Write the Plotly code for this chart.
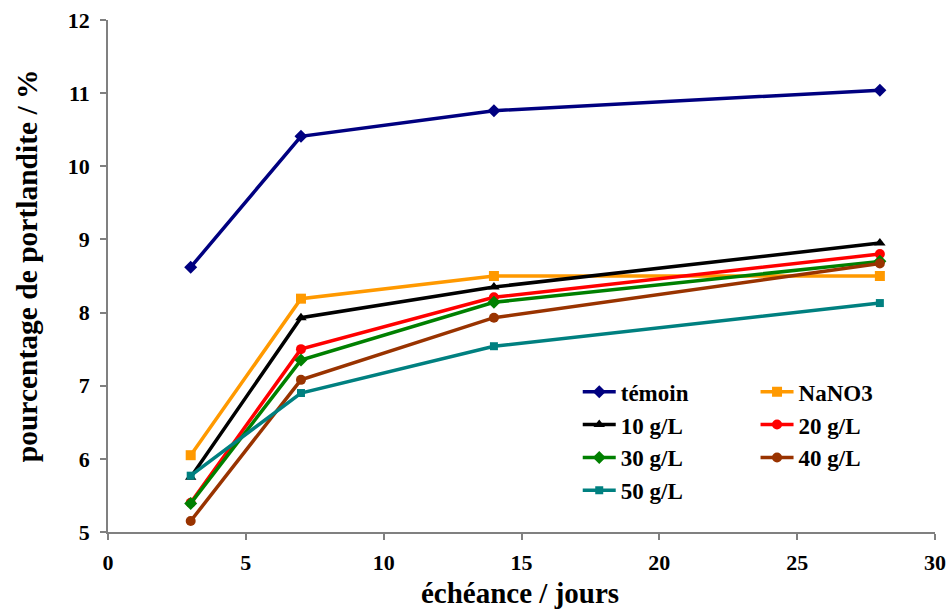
import plotly.graph_objects as go

jours = [3, 7, 14, 28]
temoin = [8.62, 10.41, 10.76, 11.04]
nano3 = [6.05, 8.19, 8.50, 8.50]
g10 = [5.75, 7.93, 8.35, 8.95]
g20 = [5.40, 7.50, 8.21, 8.80]
g30 = [5.39, 7.35, 8.14, 8.70]
g40 = [5.15, 7.08, 7.93, 8.67]
g50 = [5.77, 6.90, 7.54, 8.13]

x_tick_labels = ["0", "5", "10", "15", "20", "25", "30"]
y_tick_labels = ["5", "6", "7", "8", "9", "10", "11", "12"]

series = [
    ("témoin", temoin, "#000080", "diamond", 10, "legend"),
    ("NaNO3", nano3, "#FF9900", "square", 10, "legend2"),
    ("10 g/L", g10, "#000000", "triangle-up", 10, "legend"),
    ("20 g/L", g20, "#FF0000", "circle", 10, "legend2"),
    ("30 g/L", g30, "#008000", "diamond", 10, "legend"),
    ("40 g/L", g40, "#993300", "circle", 10, "legend2"),
    ("50 g/L", g50, "#008080", "square", 8, "legend"),
]

SERIF = "Liberation Serif, Times New Roman, serif"

fig = go.Figure()
for name, vals, color, sym, size, leg in series:
    fig.add_trace(go.Scatter(
        x=jours, y=vals, name=name, mode="lines+markers",
        line=dict(color=color, width=3.5),
        marker=dict(symbol=sym, size=size, color=color),
        legend=leg, legendgroup=name,
    ))

legfont = dict(family=SERIF, size=23, color="black", weight="bold")

fig.update_layout(
    width=946, height=613,
    margin=dict(l=108, r=11, t=20, b=81),
    plot_bgcolor="white", paper_bgcolor="white",
    font=dict(family=SERIF, color="black"),
    legend=dict(x=0.568, y=0.316, xanchor="left", yanchor="top",
                font=legfont, bgcolor="rgba(0,0,0,0)", tracegroupgap=0,
                itemwidth=33),
    legend2=dict(x=0.783, y=0.316, xanchor="left", yanchor="top",
                 font=legfont, bgcolor="rgba(0,0,0,0)", tracegroupgap=0,
                 itemwidth=33),
    annotations=[
        dict(text="<b>échéance / jours</b>", xref="paper", yref="paper",
             x=0.498, y=-0.12, xanchor="center", yanchor="middle",
             showarrow=False, font=dict(family=SERIF, size=29, color="black")),
        dict(text="<b>pourcentage de portlandite / %</b>", xref="paper", yref="paper",
             x=-0.098, y=0.521, xanchor="center", yanchor="middle", textangle=-90,
             showarrow=False, font=dict(family=SERIF, size=29.5, color="black")),
    ],
)
fig.update_xaxes(
    range=[0, 30], tickvals=[0, 5, 10, 15, 20, 25, 30], ticktext=x_tick_labels,
    showline=True, linecolor="#808080", linewidth=1.5,
    ticks="outside", ticklen=6, tickcolor="#808080", tickwidth=1.5,
    showgrid=False, zeroline=False, automargin=False, ticklabelstandoff=4,
    ticklabeloverflow="allow",
    tickfont=dict(size=22, family=SERIF, color="black", weight="bold"),
)
fig.update_yaxes(
    range=[5, 12], tickvals=[5, 6, 7, 8, 9, 10, 11, 12], ticktext=y_tick_labels,
    showline=True, linecolor="#808080", linewidth=1.5,
    ticks="outside", ticklen=6, tickcolor="#808080", tickwidth=1.5,
    showgrid=False, zeroline=False, automargin=False, ticklabelstandoff=6,
    ticklabeloverflow="allow",
    tickfont=dict(size=22, family=SERIF, color="black", weight="bold"),
)
fig.write_html(
    "out.html",
    config={"displayModeBar": False},
    post_script="document.body.style.margin='0';document.body.style.overflow='hidden';",
)
